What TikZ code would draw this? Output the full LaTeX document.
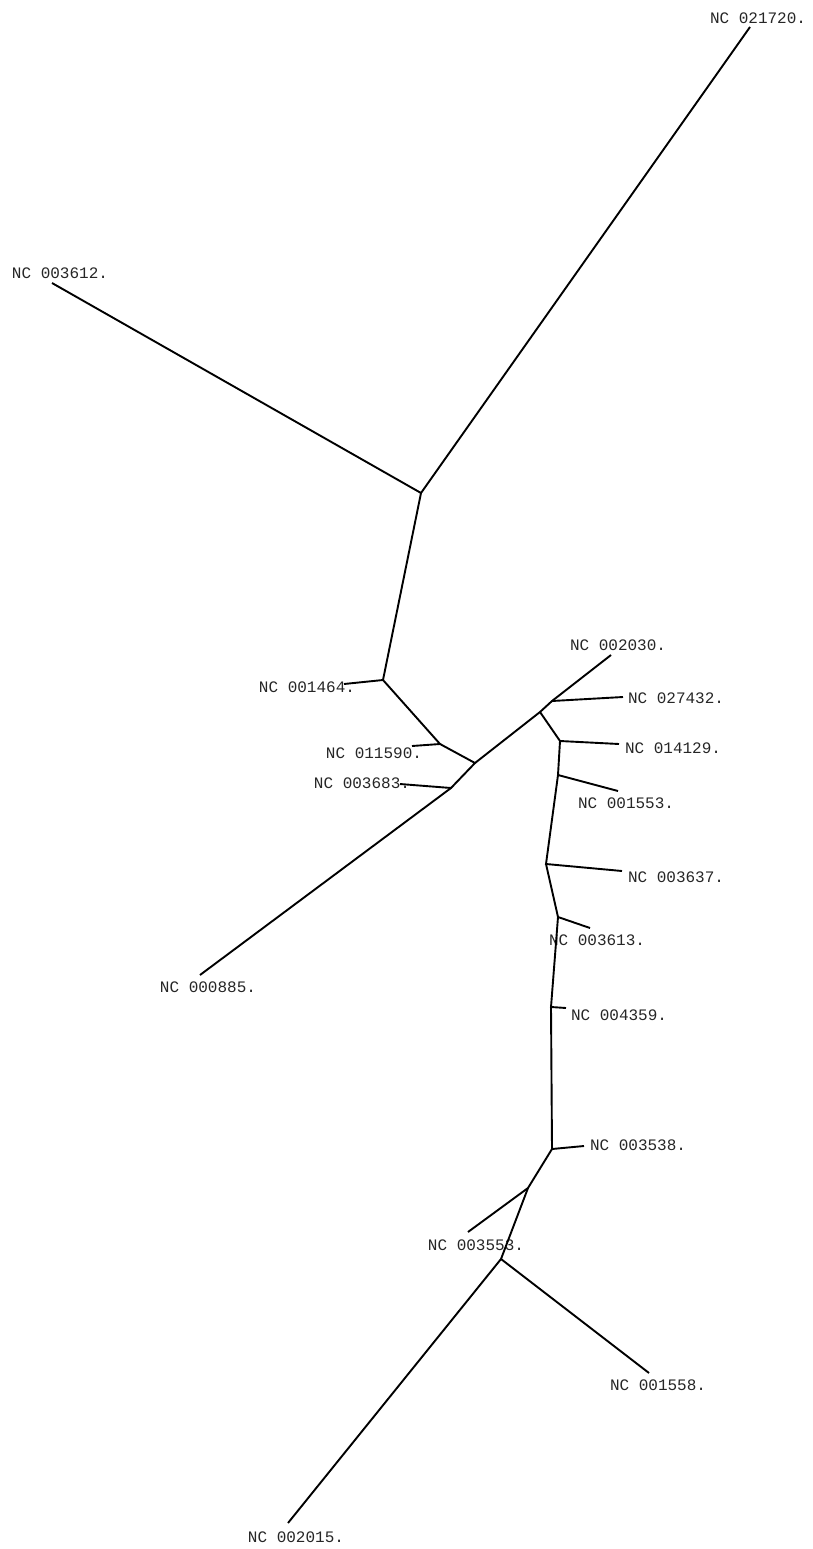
\documentclass[tikz,border=0pt]{standalone}
\usepackage{fontspec}
\setmonofont{Liberation Mono}
\usepackage{tikz}
\usetikzlibrary{positioning}

\begin{document}
\begin{tikzpicture}[
    x=1pt, y=-1pt,
    branch/.style={line width=1.9pt, color=black},
    leaf/.style={inner sep=0pt, font=\fontsize{16}{18}\ttfamily, text=black!85}
]
\useasboundingbox (0,0) rectangle (812,1549);
% inner junctions
\coordinate (n1) at (421,493);
\coordinate (n2) at (383,680);
\coordinate (n3) at (440,744);
\coordinate (n4) at (475,763);
\coordinate (n5) at (451,788);
\coordinate (n6) at (540,712);
\coordinate (n7) at (552,701);
\coordinate (n8) at (560,741);
\coordinate (n9) at (558,775);
\coordinate (n10) at (546,864);
\coordinate (n11) at (558,917);
\coordinate (n12) at (551,1007);
\coordinate (n13) at (552,1149);
\coordinate (n14) at (528,1188);
\coordinate (n15) at (501,1259);
% tips
\coordinate (t021720) at (750,27);
\coordinate (t003612) at (52,283);
\coordinate (t001464) at (344,684);
\coordinate (t011590) at (412,746);
\coordinate (t003683) at (400,784);
\coordinate (t000885) at (200,975);
\coordinate (t002030) at (611,655);
\coordinate (t027432) at (623,697);
\coordinate (t014129) at (619,744);
\coordinate (t001553) at (618,791);
\coordinate (t003637) at (622,871);
\coordinate (t003613) at (590,928);
\coordinate (t004359) at (566,1008);
\coordinate (t003538) at (584,1146);
\coordinate (t003553) at (468,1232);
\coordinate (t001558) at (649,1373);
\coordinate (t002015) at (288,1523);
% labels
\node[leaf] (l021720) at (758,18) {NC 021720.};
\node[leaf] (l003612) at (60,273) {NC 003612.};
\node[leaf] (l001464) at (307,687) {NC 001464.};
\node[leaf] (l011590) at (374,753) {NC 011590.};
\node[leaf] (l003683) at (362,783) {NC 003683.};
\node[leaf] (l000885) at (208,987) {NC 000885.};
\node[leaf] (l002030) at (618,645) {NC 002030.};
\node[leaf] (l027432) at (676,698) {NC 027432.};
\node[leaf] (l014129) at (673,748) {NC 014129.};
\node[leaf] (l001553) at (626,803) {NC 001553.};
\node[leaf] (l003637) at (676,877) {NC 003637.};
\node[leaf] (l003613) at (597,940) {NC 003613.};
\node[leaf] (l004359) at (619,1015) {NC 004359.};
\node[leaf] (l003538) at (638,1145) {NC 003538.};
\node[leaf] (l003553) at (476,1245) {NC 003553.};
\node[leaf] (l001558) at (658,1385) {NC 001558.};
\node[leaf] (l002015) at (296,1537) {NC 002015.};
% branches
\draw[branch] (t021720) -- (n1) -- (t003612);
\draw[branch] (n1) -- (n2) -- (t001464);
\draw[branch] (n2) -- (n3) -- (t011590);
\draw[branch] (n3) -- (n4) -- (n5) -- (t003683);
\draw[branch] (n5) -- (t000885);
\draw[branch] (n4) -- (n6) -- (n7) -- (t002030);
\draw[branch] (n7) -- (t027432);
\draw[branch] (n6) -- (n8) -- (t014129);
\draw[branch] (n8) -- (n9) -- (t001553);
\draw[branch] (n9) -- (n10) -- (t003637);
\draw[branch] (n10) -- (n11) -- (t003613);
\draw[branch] (n11) -- (n12) -- (t004359);
\draw[branch] (n12) -- (n13) -- (t003538);
\draw[branch] (n13) -- (n14) -- (t003553);
\draw[branch] (n14) -- (n15) -- (t001558);
\draw[branch] (n15) -- (t002015);
\end{tikzpicture}
\end{document}
